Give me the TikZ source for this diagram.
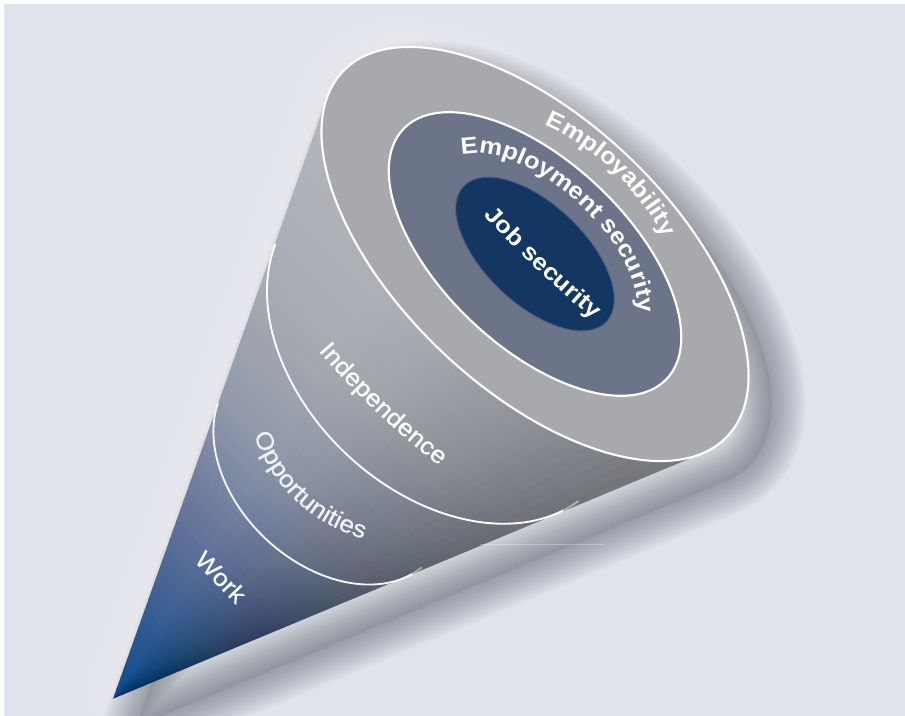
\documentclass[tikz,border=0pt]{standalone}
\usepackage{fontspec}
\setmainfont{Liberation Sans}
\newfontfamily\conefont[FakeStretch=1.1]{Liberation Sans}
\newfontfamily\bandfont[FakeStretch=1.1,FakeBold=0.6]{Liberation Sans}
\usetikzlibrary{decorations.text}
\definecolor{bgc}{RGB}{223,227,236}
\definecolor{ringout}{RGB}{168,169,173}
\definecolor{ringmid}{RGB}{107,116,137}
\definecolor{jobc}{RGB}{20,54,99}
\definecolor{jobrim}{RGB}{84,98,128}
\definecolor{cA}{RGB}{10,74,140}
\definecolor{cB}{RGB}{92,111,152}
\definecolor{cC}{RGB}{145,153,170}
\definecolor{cD}{RGB}{168,171,178}
\definecolor{cE}{RGB}{181,183,188}
\definecolor{shadowc}{RGB}{78,82,96}
\begin{document}
\begin{tikzpicture}[x=0.75pt,y=0.75pt,
  ring/.style={white, line width=1.6pt},
  bandline/.style={white, line width=1.4pt},
  curvedtext/.style={decorate, decoration={text along path, text align=center, text color=white}},
  worktext/.style={text=white!92!gray, inner sep=0pt, font=\bandfont\fontsize{18}{20}\selectfont}]
\useasboundingbox (0,0) rectangle (905,716);
\clip (0,0) rectangle (905,716);
\fill[white] (0,0) rectangle (905,716);
\fill[bgc] (4,0) rectangle (905,712);
% soft light halo on the lit side
\begin{scope}[shift={(528,469)}, rotate=-43.5]
  \foreach \w in {6,12,...,42}{
    \draw[white, opacity=0.04, line width=\w pt, line join=round]
      (0,-613) -- (-258.5,-29.7) arc[start angle=192.72, end angle=-12.72, x radius=265, y radius=135] -- cycle;
  }
\end{scope}
% drop shadow
\begin{scope}[shift={(558,434)}, rotate=-43.5]
  \fill[shadowc, opacity=0.12]
    (0,-613) -- (-258.5,-29.7) arc[start angle=192.72, end angle=-12.72, x radius=265, y radius=135] -- cycle;
  \foreach \w in {3,6,...,51}{
    \draw[shadowc, opacity=0.032, line width=\w pt, line join=round]
      (0,-613) -- (-258.5,-29.7) arc[start angle=192.72, end angle=-12.72, x radius=265, y radius=135] -- cycle;
  }
\end{scope}
% the cone
\begin{scope}[shift={(535,462)}, rotate=-43.5]
  \coordinate (tip) at (0,-613);
  \coordinate (lt) at (-258.5,-29.7);
  \begin{scope}
    \clip (tip) -- (lt) arc[start angle=192.72, end angle=347.28, x radius=265, y radius=135] -- cycle;
    \foreach \k in {0,...,79}{
      \pgfmathsetmacro\vlo{-613+\k*9.6}
      \pgfmathsetmacro\vhi{\vlo+10.8}
      \pgfmathsetmacro\tpos{min(1,(\vlo+4.8+613)/583)}
      \ifdim\tpos pt<0.28pt\relax
        \pgfmathsetmacro\pmix{100*\tpos/0.28}\colorlet{sc}{cB!\pmix!cA}
      \else\ifdim\tpos pt<0.5pt\relax
        \pgfmathsetmacro\pmix{100*(\tpos-0.28)/0.22}\colorlet{sc}{cC!\pmix!cB}
      \else\ifdim\tpos pt<0.7pt\relax
        \pgfmathsetmacro\pmix{100*(\tpos-0.5)/0.2}\colorlet{sc}{cD!\pmix!cC}
      \else
        \pgfmathsetmacro\pmix{100*(\tpos-0.7)/0.3}\colorlet{sc}{cE!\pmix!cD}
      \fi\fi\fi
      \fill[sc] (-420,\vlo) rectangle (420,\vhi);
    }
    % nested wedges: darker towards the shaded (right) side
    \foreach \k in {1,...,40}{
      \pgfmathsetmacro\ua{-340+\k*17}
      \pgfmathsetmacro\fa{0.30*max(0,(\ua+200)/540)^2}
      \pgfmathsetmacro\fb{0.30*max(0,(\ua-17+200)/540)^2}
      \pgfmathsetmacro\op{max(0,1-(1-\fa)/(1-\fb))}
      \fill[black, opacity=\op] (tip) -- (\ua,150) -- (360,150) -- cycle;
    }
  \end{scope}
  % band lines
  \draw[bandline] (0,-132) ++(196:203 and 143) arc[start angle=196, end angle=346, x radius=203, y radius=143];
  \draw[bandline, opacity=0.45] (0,-132) ++(346:203 and 143) arc[start angle=346, end angle=353, x radius=203, y radius=143];
  \draw[bandline, white!92!gray] (0,-297) ++(198:134 and 95) arc[start angle=198, end angle=348, x radius=134, y radius=95];
  \draw[bandline, opacity=0.45] (0,-297) ++(348:134 and 95) arc[start angle=348, end angle=355, x radius=134, y radius=95];
  % top face
  \fill[ringout] (0,0) ellipse[x radius=265, y radius=135];
  \draw[ring] (0,0) ellipse[x radius=265, y radius=135];
  \fill[ringmid] (0,0) ellipse[x radius=181.5, y radius=92.5];
  \draw[ring] (0,0) ellipse[x radius=181.5, y radius=92.5];
  \fill[jobc] (0,0) ellipse[x radius=98.6, y radius=50];
  \draw[jobrim, line width=0.8pt] (0,0) ellipse[x radius=98.6, y radius=50];
  % curved labels
  \path[curvedtext, decoration={text={|\conefont\fontsize{17.5}{20}\selectfont\bfseries|Employability}}]
    (180:172 and 114) arc[start angle=180, end angle=0, x radius=172, y radius=114];
  \path[curvedtext, decoration={text={|\conefont\fontsize{17.5}{20}\selectfont\bfseries|Employment security}}]
    (184:128 and 67) arc[start angle=184, end angle=4, x radius=128, y radius=67];
  \path[curvedtext, decoration={text={|\conefont\fontsize{17.5}{20}\selectfont\bfseries|Job security}}]
    (-108,-4) .. controls (-28,-11.5) and (52,-11.5) .. (132,-4);
  \path[curvedtext, decoration={text={|\bandfont\fontsize{18}{20}\selectfont|Independence}}]
    (-117,-216) .. controls (-47,-226.3) and (33,-226.3) .. (103,-216);
  \path[curvedtext, decoration={text color=white!90!gray, text={|\bandfont\fontsize{18}{20}\selectfont|Opportunities}}]
    (-92,-318) .. controls (-33,-352) and (25,-352) .. (84,-318);
\end{scope}
\node[worktext, rotate=-46] (work) at (221,139) {Work};
\draw[white, opacity=0.3, line width=0.7pt] (480,172) -- (605,172);
\end{tikzpicture}
\end{document}
